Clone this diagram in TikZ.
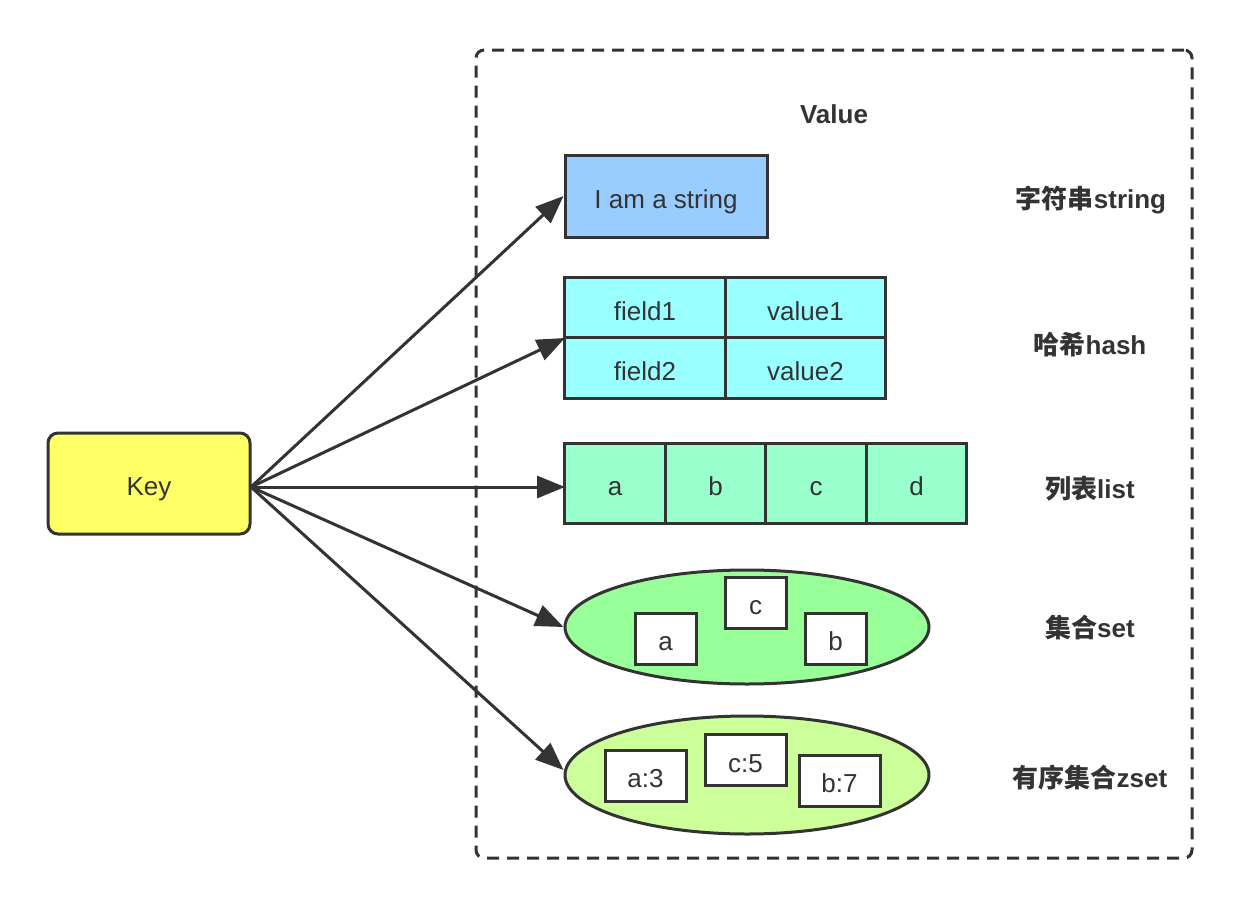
\documentclass[tikz,border=0pt]{standalone}
\usepackage{fontspec}
\setmainfont{Liberation Sans}
\newfontfamily\cjk{Noto Sans CJK SC}
\usetikzlibrary{arrows.meta,shapes.geometric}
\definecolor{ln}{HTML}{333333}
\definecolor{keyc}{HTML}{FFFF66}
\definecolor{strc}{HTML}{99CCFF}
\definecolor{hashc}{HTML}{99FFFF}
\definecolor{listc}{HTML}{99FFCC}
\definecolor{setc}{HTML}{99FF99}
\definecolor{zsetc}{HTML}{CCFF99}
\tikzset{
  txt/.style={font=\fontsize{13}{15}\selectfont, text=ln, text height=12pt, text depth=0pt},
  lbl/.style={font=\fontsize{13}{15}\selectfont\bfseries, text=ln},
  cell/.style={draw=ln, line width=1.5pt, inner sep=0pt, txt},
  arr/.style={draw=ln, line width=1.5pt, -{Triangle[length=14pt,width=11pt]}},
}
\begin{document}
\begin{tikzpicture}[x=0.5pt,y=-0.5pt]
\useasboundingbox (0,0) rectangle (1242,910);
% frame
\node[draw=ln, line width=1.5pt, dash pattern=on 6pt off 4pt, rounded corners=4pt,
      minimum width=358pt, minimum height=404pt, inner sep=0pt] (frame) at (834,454) {};
\node[lbl] (valuelbl) at (834,114) {Value};
% key
\node[cell, fill=keyc, rounded corners=5pt, minimum width=101pt, minimum height=50.5pt] (key) at (149,483.5) {Key};
% string
\node[cell, fill=strc, minimum width=101pt, minimum height=41pt] (str) at (666,196) {I am a string};
% hash
\node[cell, fill=hashc, minimum width=80.25pt, minimum height=30.25pt] (h11) at (645,308) {field1};
\node[cell, fill=hashc, minimum width=80.25pt, minimum height=30.25pt] (h12) at (805.5,308) {value1};
\node[cell, fill=hashc, minimum width=80.25pt, minimum height=30.25pt] (h21) at (645,368) {field2};
\node[cell, fill=hashc, minimum width=80.25pt, minimum height=30.25pt] (h22) at (805.5,368) {value2};
\coordinate (hashin) at (565,338);
% list
\node[cell, fill=listc, minimum width=50.25pt, minimum height=40pt] (la) at (615,483) {a};
\node[cell, fill=listc, minimum width=50.25pt, minimum height=40pt] (lb) at (715.5,483) {b};
\node[cell, fill=listc, minimum width=50.25pt, minimum height=40pt] (lc) at (816,483) {c};
\node[cell, fill=listc, minimum width=50.25pt, minimum height=40pt] (ld) at (916.5,483) {d};
\coordinate (listin) at (565,487);
% set
\node[draw=ln, line width=1.5pt, fill=setc, ellipse, inner sep=0pt, minimum width=182pt, minimum height=57pt] (set) at (747,627) {};
\node[cell, fill=white, minimum width=30.5pt, minimum height=25.5pt] (sc) at (755.5,602.5) {c};
\node[cell, fill=white, minimum width=30.5pt, minimum height=25.5pt] (sa) at (665.5,638.5) {a};
\node[cell, fill=white, minimum width=30.5pt, minimum height=25.5pt] (sb) at (835.5,638.5) {b};
% zset
\node[draw=ln, line width=1.5pt, fill=zsetc, ellipse, inner sep=0pt, minimum width=182pt, minimum height=59pt] (zset) at (747,775) {};
\node[cell, fill=white, minimum width=40.5pt, minimum height=25.5pt] (za) at (645.5,775.5) {a:3};
\node[cell, fill=white, minimum width=40.5pt, minimum height=25.5pt] (zc) at (745.5,760) {c:5};
\node[cell, fill=white, minimum width=40.5pt, minimum height=25.5pt] (zb) at (839.5,780.5) {b:7};
% right labels
\node[lbl] (lstr) at (1091,200) {{\cjk\bfseries 字符串}string};
\node[lbl] (lhash) at (1090,345) {{\cjk\bfseries 哈希}hash};
\node[lbl] (llist) at (1090,489) {{\cjk\bfseries 列表}list};
\node[lbl] (lset) at (1090,628) {{\cjk\bfseries 集合}set};
\node[lbl] (lzset) at (1090,778) {{\cjk\bfseries 有序集合}zset};
% arrows
\coordinate (src) at (251,487);
\draw[arr] (src) -- (str.west);
\draw[arr] (src) -- (hashin);
\draw[arr] (src) -- (listin);
\draw[arr] (src) -- (set.west);
\draw[arr] (src) -- ([yshift=2.5pt]zset.west);
\end{tikzpicture}
\end{document}
